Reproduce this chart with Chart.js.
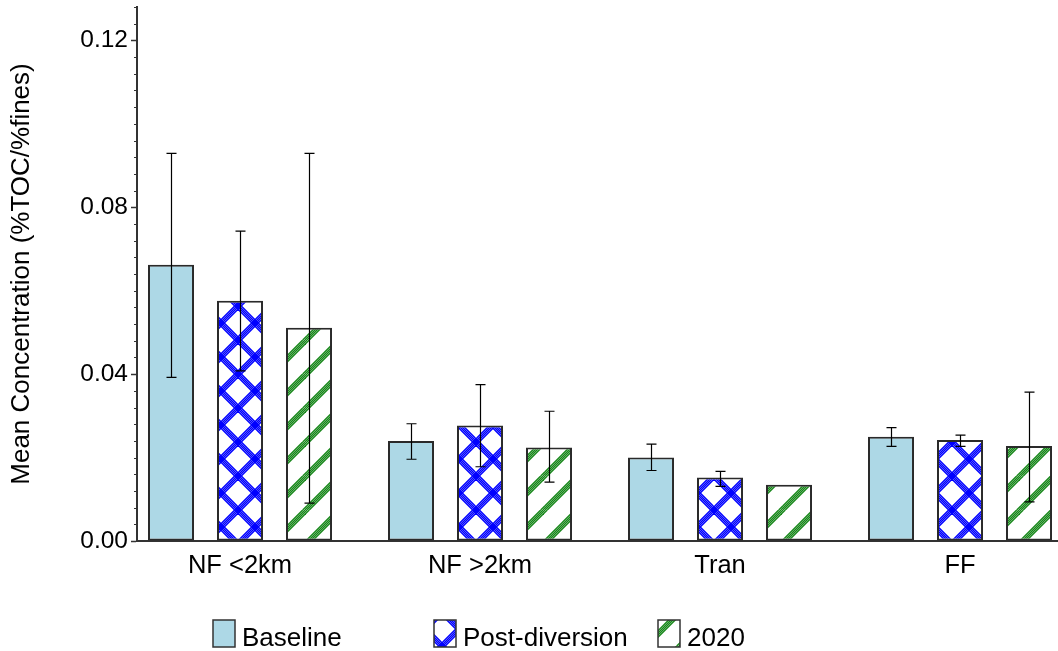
<!DOCTYPE html>
<html>
<head>
<meta charset="utf-8">
<script src="https://cdn.jsdelivr.net/npm/chart.js@4.4.0/dist/chart.umd.min.js"></script>
<style>
  html, body { margin: 0; padding: 0; background: #fff; overflow: hidden; }
</style>
</head>
<body>
<canvas id="concChart" width="1058" height="651"></canvas>
<script>
const categories = ["NF <2km", "NF >2km", "Tran", "FF"];
const seriesNames = ["Baseline", "Post-diversion", "2020"];

const baseline   = [0.0662, 0.0240, 0.0200, 0.0250];
const baselineLo = [0.0392, 0.0196, 0.0169, 0.0227];
const baselineHi = [0.0929, 0.0281, 0.0232, 0.0272];

const postDiv   = [0.0576, 0.0277, 0.0152, 0.0242];
const postDivLo = [0.0408, 0.0178, 0.0131, 0.0227];
const postDivHi = [0.0743, 0.0375, 0.0167, 0.0254];

const y2020   = [0.0511, 0.0224, 0.0135, 0.0228];
const y2020Lo = [0.0091, 0.0141, null, 0.0094];
const y2020Hi = [0.0929, 0.0311, null, 0.0357];

const yTicks = [0, 0.04, 0.08, 0.12];
const yMinorStep = 0.004;

const canvas = document.getElementById("concChart");
const ctx = canvas.getContext("2d");

// hatch fills, built on a small tile (bundles of 4 thin lines)
function hatch(color, cross) {
    const s = 34;
    const tile = document.createElement("canvas");
    tile.width = s; tile.height = s;
    const g = tile.getContext("2d");
    g.fillStyle = "#fff";
    g.fillRect(0, 0, s, s);
    g.strokeStyle = color;
    g.lineWidth = 1.4;
    for (const k of [-1, 0, 1]) {
        for (const o of [-3.3, -1.1, 1.1, 3.3]) {
            g.beginPath(); g.moveTo(k * s + o, s); g.lineTo(k * s + o + s, 0); g.stroke();
            if (cross) {
                g.beginPath(); g.moveTo(k * s + o, 0); g.lineTo(k * s + o + s, s); g.stroke();
            }
        }
    }
    return ctx.createPattern(tile, "repeat");
}

const fills = ["#add8e6", hatch("#0000ff", true), hatch("#17871a", false)];

function points(vals) {
    return vals.map((v, i) => ({ x: i + 1, y: v }));
}

const errorBars = {
    id: "errorBars",
    afterDatasetsDraw(chart) {
        const c = chart.ctx, ys = chart.scales.y;
        c.save();
        c.strokeStyle = "#000";
        c.lineWidth = 1.2;
        chart.data.datasets.forEach((ds, di) => {
            chart.getDatasetMeta(di).data.forEach((bar, i) => {
                const lo = ds.errLo[i], hi = ds.errHi[i];
                if (lo == null || hi == null) return;
                const x = Math.round(bar.x) + 0.5;
                const yl = ys.getPixelForValue(lo), yh = ys.getPixelForValue(hi);
                c.beginPath();
                c.moveTo(x, yh); c.lineTo(x, yl);
                c.moveTo(x - 5, yh); c.lineTo(x + 5, yh);
                c.moveTo(x - 5, yl); c.lineTo(x + 5, yl);
                c.stroke();
            });
        });
        c.restore();
    }
};

const minorTicksAndLegend = {
    id: "minorTicksAndLegend",
    afterDraw(chart) {
        const c = chart.ctx, ys = chart.scales.y;
        const x0 = chart.chartArea.left;
        c.save();
        c.strokeStyle = "#333";
        c.lineWidth = 1;
        for (let k = 0; k * yMinorStep <= ys.max + 1e-9; k++) {
            if (k % 10 === 0) continue;
            const py = Math.round(ys.getPixelForValue(k * yMinorStep)) + 0.5;
            c.beginPath(); c.moveTo(x0 - 3, py); c.lineTo(x0, py); c.stroke();
        }

        // legend row
        const slots = [213, 434, 658];
        c.font = "26px 'Liberation Sans', Arial, sans-serif";
        c.textBaseline = "alphabetic";
        chart.data.datasets.forEach((ds, i) => {
            const bx = slots[i], by = 620;
            c.fillStyle = ds.backgroundColor;
            c.fillRect(bx, by, 22, 27);
            c.strokeStyle = "#333";
            c.lineWidth = 1.5;
            c.strokeRect(bx, by, 22, 27);
            c.fillStyle = "#000";
            c.fillText(ds.label, bx + 29, 646);
        });
        c.restore();
    }
};

const fontFamily = "'Liberation Sans', Arial, sans-serif";

new Chart(ctx, {
    type: "bar",
    data: {
        datasets: [
            { label: seriesNames[0], data: points(baseline), errLo: baselineLo, errHi: baselineHi },
            { label: seriesNames[1], data: points(postDiv), errLo: postDivLo, errHi: postDivHi },
            { label: seriesNames[2], data: points(y2020), errLo: y2020Lo, errHi: y2020Hi }
        ].map((d, i) => Object.assign(d, {
            backgroundColor: fills[i],
            borderColor: "#2a2a2a",
            borderWidth: 2,
            borderSkipped: false,
            categoryPercentage: 0.8625,
            barPercentage: 0.667
        }))
    },
    options: {
        responsive: false,
        animation: false,
        devicePixelRatio: 1,
        layout: { padding: { top: 7, right: 0, bottom: 0, left: 0 } },
        plugins: {
            legend: { display: false },
            tooltip: { enabled: false }
        },
        scales: {
            x: {
                type: "linear",
                offset: false,
                min: 0.5708,
                max: 4.4083,
                afterBuildTicks: (s) => { s.ticks = categories.map((c, i) => ({ value: i + 1 })); },
                afterFit: (s) => { s.height = 110; s.paddingLeft = 0; s.paddingRight = 0; },
                grid: { display: false, drawTicks: false, offset: false },
                border: { display: true, color: "#333", width: 2 },
                ticks: {
                    font: { family: fontFamily, size: 25.5 },
                    color: "#000",
                    padding: 10,
                    maxRotation: 0,
                    callback: (v, i) => categories[i]
                }
            },
            y: {
                min: 0,
                max: 0.128,
                afterBuildTicks: (s) => { s.ticks = yTicks.map(v => ({ value: v })); },
                afterFit: (s) => { s.width = 137; s.paddingTop = 0; s.paddingBottom = 0; },
                grid: {
                    drawOnChartArea: false,
                    drawTicks: true,
                    tickLength: 6,
                    tickColor: "#333",
                    tickWidth: 1.5
                },
                border: { display: true, color: "#333", width: 2 },
                ticks: {
                    font: { family: fontFamily, size: 24.5 },
                    color: "#000",
                    padding: 3,
                    callback: (v) => v.toFixed(2)
                },
                title: {
                    display: true,
                    text: "Mean Concentration (%TOC/%fines)",
                    font: { family: fontFamily, size: 26 },
                    color: "#000",
                    padding: { top: 6, bottom: 4 }
                }
            }
        }
    },
    plugins: [errorBars, minorTicksAndLegend]
});
</script>
</body>
</html>
